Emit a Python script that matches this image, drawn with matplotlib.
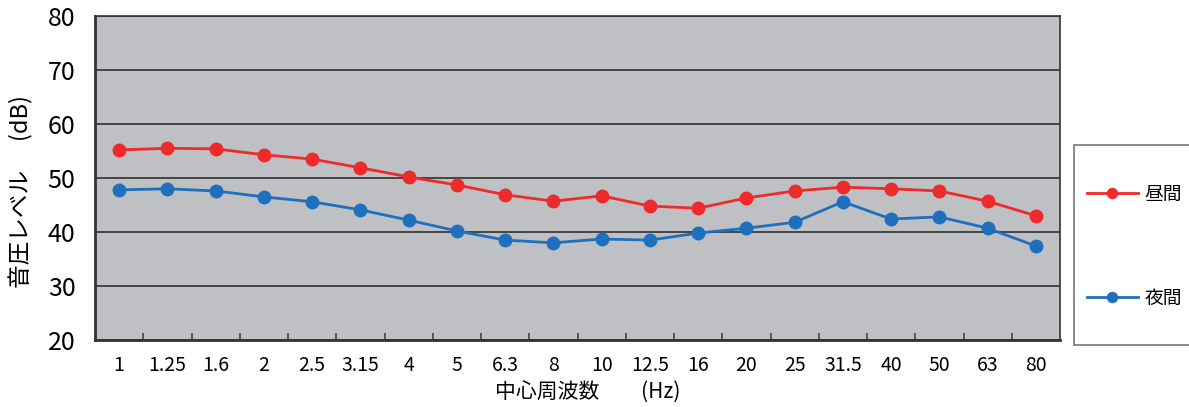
import numpy as np
import matplotlib
matplotlib.use("Agg")
import matplotlib.pyplot as plt
from matplotlib.patches import Rectangle
from matplotlib.ticker import FixedLocator

plt.rcParams['font.family'] = ['Noto Sans CJK JP', 'DejaVu Sans']

# 1/3 octave band centre frequencies (Hz)
freqs = ['1', '1.25', '1.6', '2', '2.5', '3.15', '4', '5', '6.3', '8',
         '10', '12.5', '16', '20', '25', '31.5', '40', '50', '63', '80']

# sound pressure level (dB)
day = [55.2, 55.5, 55.4, 54.3, 53.5, 51.9, 50.2, 48.7, 46.9, 45.7,
       46.7, 44.8, 44.4, 46.3, 47.6, 48.3, 48.0, 47.6, 45.7, 43.0]
night = [47.8, 48.0, 47.6, 46.5, 45.6, 44.1, 42.2, 40.2, 38.5, 38.0,
         38.7, 38.5, 39.8, 40.7, 41.8, 45.6, 42.4, 42.8, 40.7, 37.4]

labels = ['昼間', '夜間']

W, H = 1189, 407
fig = plt.figure(figsize=(W / 100, H / 100), dpi=100)
ax = fig.add_axes([95 / W, 67 / H, 965 / W, 324 / H])
ax.set_facecolor('#bfc0c4')

x = np.arange(len(freqs))
ax.plot(x, day, color='#ee2a2a', lw=2, marker='o', ms=9, label=labels[0], zorder=3)
ax.plot(x, night, color='#1f6fbf', lw=2, marker='o', ms=9, label=labels[1], zorder=3)

ax.set_xlim(-0.5, len(freqs) - 0.5)
ax.set_ylim(20, 80)
ax.set_yticks(range(20, 81, 10))
ax.set_xticks(x)
ax.set_xticklabels(freqs, fontsize=14)
ax.tick_params(axis='x', length=0, pad=11)
ax.tick_params(axis='y', length=0, pad=14, labelsize=18)
ax.xaxis.set_minor_locator(FixedLocator(np.arange(0.5, len(freqs) - 1, 1)))
ax.tick_params(axis='x', which='minor', direction='in', length=5, width=1.2, color='#444444')

ax.grid(axis='y', color='#3a3a3a', lw=1.3)
ax.set_axisbelow(True)
for s in ax.spines.values():
    s.set_color('#333333')
    s.set_linewidth(1.2)
ax.spines['left'].set_linewidth(2)
ax.spines['bottom'].set_linewidth(2)

ax.set_xlabel('中心周波数　　(Hz)', fontsize=15)
ax.xaxis.set_label_coords((588 - 95) / 965, (340 - 382) / 324)
ax.set_ylabel('音圧レベル　 (dB)', fontsize=17)
ax.yaxis.set_label_coords((33 - 95) / 965, (340 - 192) / 324)

# legend box, partly cut by the right edge as in the original
fig.patches.append(Rectangle((1074 / W, 1 - 345 / H), 130 / W, 200 / H,
                             transform=fig.transFigure, facecolor='white',
                             edgecolor='#777777', lw=1.2, zorder=0))
fig.legend(loc='upper left', bbox_to_anchor=(1087 / W, 1 - 184 / H),
           borderaxespad=0, borderpad=0, frameon=False, fontsize=13.5,
           labelspacing=4.4, handlelength=2.7, handletextpad=0.35, markerscale=0.8)

fig.savefig('out.png', dpi=100)
